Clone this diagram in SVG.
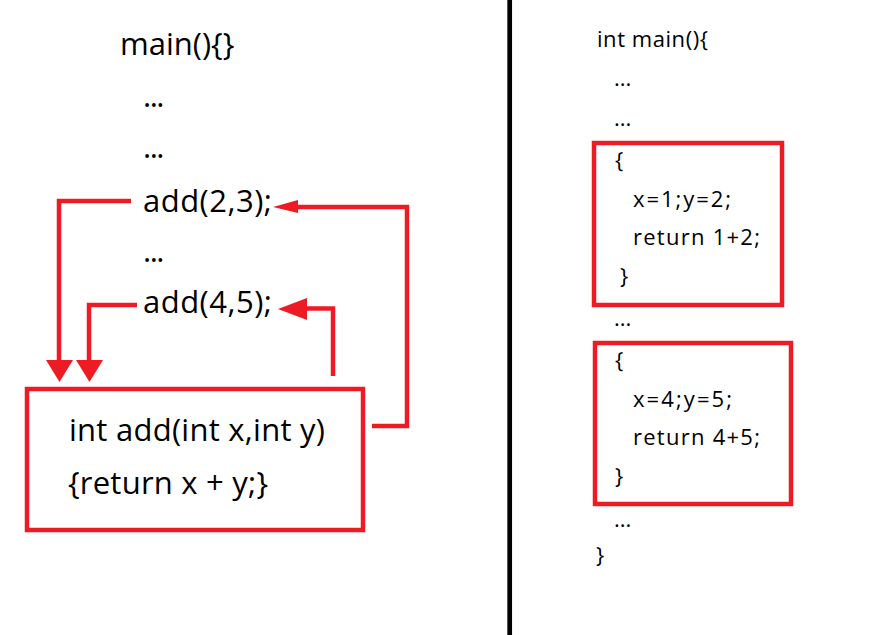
<svg xmlns="http://www.w3.org/2000/svg" width="871" height="635" viewBox="0 0 871 635">
<style>
.big{font-family:"Open Sans","Noto Sans",sans-serif;font-size:31px;fill:#000}
.sm{font-family:"Open Sans","Noto Sans",sans-serif;font-size:22px;fill:#000}
.ln{fill:none;stroke:#ED1C24;stroke-width:4.5}
.ah{fill:#ED1C24;stroke:none}
.box{fill:#fff;stroke:#ED1C24;stroke-width:4.5}
</style>
<rect width="871" height="635" fill="#fff"/>
<line x1="509.7" y1="0" x2="509.7" y2="635" stroke="#000" stroke-width="4.7"/>
<g id="left-main">
<text class="big" x="120" y="55">main(){}</text>
<text class="big" x="143" y="107" letter-spacing="-1.5">...</text>
<text class="big" x="143" y="158" letter-spacing="-1.5">...</text>
<text class="big" x="143" y="212" textLength="129" lengthAdjust="spacing">add(2,3);</text>
<text class="big" x="143" y="262" letter-spacing="-1.5">...</text>
<text class="big" x="143" y="313" textLength="129" lengthAdjust="spacing">add(4,5);</text>
</g>
<g id="add-func">
<rect class="box" x="27" y="389" width="336" height="141"/>
<text class="big" x="69" y="441" textLength="256" lengthAdjust="spacing">int add(int x,int y)</text>
<text class="big" x="68" y="494" textLength="200" lengthAdjust="spacing">{return x + y;}</text>
</g>
<g id="connectors">
<polyline class="ln" points="131,201 59,201 59,362"/>
<polygon class="ah" points="46,360 73,360 59.5,382"/>
<polyline class="ln" points="137,305 89,305 89,362"/>
<polygon class="ah" points="76,360 103,360 89.5,382"/>
<polyline class="ln" points="372,426 407,426 407,207 296,207"/>
<polygon class="ah" points="273,207 298,200 298,213"/>
<polyline class="ln" points="333,376 333,308.5 305,308.5"/>
<polygon class="ah" points="278,309 307,298 307,320"/>
</g>
<g id="right-main">
<text class="sm" x="597" y="47" textLength="111" lengthAdjust="spacing">int main(){</text>
<text class="sm" x="614" y="86">...</text>
<text class="sm" x="614" y="126">...</text>
<text class="sm" x="614" y="326">...</text>
<text class="sm" x="614" y="527">...</text>
<text class="sm" x="596" y="563">}</text>
</g>
<g id="call1">
<rect class="box" x="594" y="143" width="188" height="162"/>
<text class="sm" x="615" y="168">{</text>
<text class="sm" x="633" y="207" textLength="98" lengthAdjust="spacing">x=1;y=2;</text>
<text class="sm" x="633" y="245" textLength="127" lengthAdjust="spacing">return 1+2;</text>
<text class="sm" x="620" y="284">}</text>
</g>
<g id="call2">
<rect class="box" x="595" y="343" width="196" height="161"/>
<text class="sm" x="615" y="368">{</text>
<text class="sm" x="633" y="407" textLength="99" lengthAdjust="spacing">x=4;y=5;</text>
<text class="sm" x="633" y="445" textLength="127" lengthAdjust="spacing">return 4+5;</text>
<text class="sm" x="615" y="484">}</text>
</g>
</svg>
